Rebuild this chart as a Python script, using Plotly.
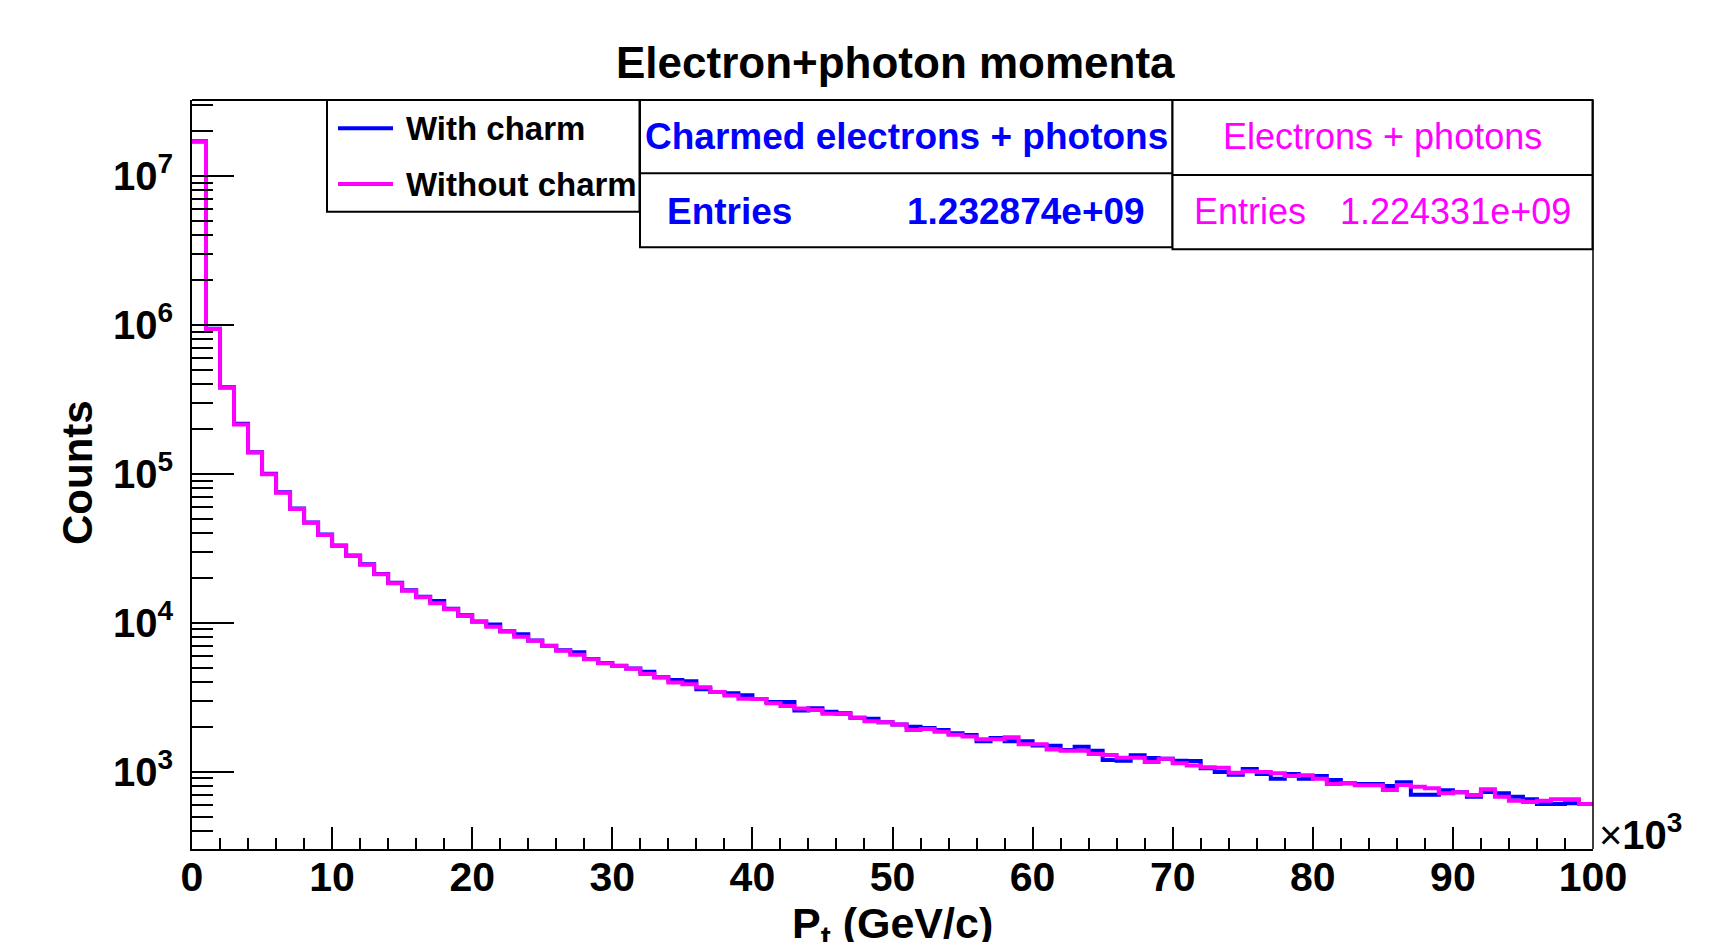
import plotly.graph_objects as go

# ---------------- data ----------------
bin_edges = list(range(0, 101))  # Pt in units of 10^3 GeV/c

with_charm = [
    1.70e7, 9.40e5, 3.80e5, 2.16e5, 1.395e5, 1.00e5, 7.50e4, 5.83e4, 4.71e4, 3.90e4,
    3.29e4, 2.82e4, 2.47e4, 2.12e4, 1.85e4, 1.65e4, 1.49e4, 1.40e4, 1.24e4, 1.12e4,
    1.02e4, 9.74e3, 8.75e3, 8.35e3, 7.60e3, 7.01e3, 6.52e3, 6.32e3, 5.70e3, 5.36e3,
    5.14e3, 4.93e3, 4.69e3, 4.31e3, 4.12e3, 4.04e3, 3.57e3, 3.43e3, 3.36e3, 3.26e3,
    3.08e3, 2.94e3, 2.94e3, 2.57e3, 2.66e3, 2.52e3, 2.47e3, 2.30e3, 2.27e3, 2.15e3,
    2.07e3, 2.00e3, 1.965e3, 1.905e3, 1.81e3, 1.76e3, 1.60e3, 1.68e3, 1.60e3, 1.60e3,
    1.50e3, 1.495e3, 1.40e3, 1.47e3, 1.38e3, 1.198e3, 1.185e3, 1.29e3, 1.236e3, 1.22e3,
    1.185e3, 1.18e3, 1.054e3, 995, 955, 1042, 965, 897, 965, 897,
    936, 880, 836, 827, 827, 802, 849, 701, 701, 750,
    728, 680, 731, 716, 680, 653, 607, 607, 614, 607,
]

without_charm = [
    1.69e7, 9.35e5, 3.78e5, 2.14e5, 1.387e5, 9.93e4, 7.45e4, 5.80e4, 4.69e4, 3.88e4,
    3.27e4, 2.80e4, 2.45e4, 2.11e4, 1.84e4, 1.64e4, 1.48e4, 1.35e4, 1.23e4, 1.11e4,
    1.016e4, 9.40e3, 8.71e3, 8.05e3, 7.57e3, 6.98e3, 6.49e3, 6.10e3, 5.68e3, 5.34e3,
    5.12e3, 4.91e3, 4.53e3, 4.29e3, 3.96e3, 3.86e3, 3.68e3, 3.43e3, 3.24e3, 3.09e3,
    3.08e3, 2.88e3, 2.76e3, 2.65e3, 2.59e3, 2.45e3, 2.44e3, 2.30e3, 2.18e3, 2.15e3,
    2.07e3, 1.905e3, 1.93e3, 1.85e3, 1.77e3, 1.72e3, 1.65e3, 1.65e3, 1.70e3, 1.53e3,
    1.53e3, 1.41e3, 1.38e3, 1.38e3, 1.315e3, 1.295e3, 1.24e3, 1.24e3, 1.16e3, 1.22e3,
    1.14e3, 1.10e3, 1.07e3, 1.064e3, 985, 1006, 995, 976, 936, 946,
    897, 827, 836, 811, 811, 754, 815, 793, 775, 716,
    727, 698, 762, 680, 639, 626, 639, 653, 653, 607,
]

title_text = "Electron+photon momenta"
x_title = "P<sub>t</sub> (GeV/c)"
y_title = "Counts"
legend_labels = ["With charm", "Without charm"]
stats_titles = ["Charmed electrons + photons", "Electrons + photons"]
stats_entries = ["1.232874e+09", "1.224331e+09"]
x_tick_vals = [0, 10, 20, 30, 40, 50, 60, 70, 80, 90, 100]
x_tick_text = ["0", "10", "20", "30", "40", "50", "60", "70", "80", "90", "100"]
y_tick_vals = [1e3, 1e4, 1e5, 1e6, 1e7]
y_tick_text = ["10<sup>3</sup>", "10<sup>4</sup>", "10<sup>5</sup>", "10<sup>6</sup>", "10<sup>7</sup>"]
y_minor_vals = [k * 10 ** e for e in range(2, 8) for k in range(2, 10)]

BLUE = "#0000ff"
MAGENTA = "#ff00ff"
FONT = "Liberation Sans, Arial, Helvetica, sans-serif"

# ---------------- layout geometry (pixels) ----------------
W, H = 1718, 942
L, R, T, B = 192, 1593, 100, 849


def px(x):
    return (x - L) / (R - L)


def py(y):
    return (B - y) / (B - T)


fig = go.Figure()

fig.add_trace(go.Scatter(
    x=bin_edges, y=with_charm + [with_charm[-1]], mode="lines",
    line=dict(color=BLUE, width=4, shape="hv"), name=legend_labels[0],
    showlegend=False,
))
fig.add_trace(go.Scatter(
    x=bin_edges, y=without_charm + [without_charm[-1]], mode="lines",
    line=dict(color=MAGENTA, width=4, shape="hv"), name=legend_labels[1],
    showlegend=False,
))

shapes = []
# frame top & right
shapes.append(dict(type="line", xref="paper", yref="paper", x0=px(L), x1=px(R), y0=py(T), y1=py(T),
                   line=dict(color="black", width=2)))
shapes.append(dict(type="line", xref="paper", yref="paper", x0=px(R), x1=px(R), y0=py(T), y1=py(B),
                   line=dict(color="black", width=1.5)))
# legend box
shapes.append(dict(type="rect", xref="paper", yref="paper", x0=px(327), x1=px(639.5), y0=py(100), y1=py(211.7),
                   line=dict(color="black", width=2), fillcolor="white", layer="above"))
shapes.append(dict(type="line", xref="paper", yref="paper", x0=px(338), x1=px(393), y0=py(128.3), y1=py(128.3),
                   line=dict(color=BLUE, width=4)))
shapes.append(dict(type="line", xref="paper", yref="paper", x0=px(338), x1=px(393), y0=py(184), y1=py(184),
                   line=dict(color=MAGENTA, width=4)))
# stats box 1
shapes.append(dict(type="rect", xref="paper", yref="paper", x0=px(640), x1=px(1172.5), y0=py(100), y1=py(247.3),
                   line=dict(color="black", width=2), fillcolor="white"))
shapes.append(dict(type="line", xref="paper", yref="paper", x0=px(640), x1=px(1172.5), y0=py(173.3), y1=py(173.3),
                   line=dict(color="black", width=2)))
# stats box 2
shapes.append(dict(type="rect", xref="paper", yref="paper", x0=px(1172.5), x1=px(1592.5), y0=py(100), y1=py(249.3),
                   line=dict(color="black", width=2), fillcolor="white"))
shapes.append(dict(type="line", xref="paper", yref="paper", x0=px(1172.5), x1=px(1592.5), y0=py(175), y1=py(175),
                   line=dict(color="black", width=2)))

ann = []


def add_text(text, x, y, size, color="black", bold=True, xanchor="center", yanchor="middle", angle=0):
    ann.append(dict(text=text, x=px(x), y=py(y), xref="paper", yref="paper", showarrow=False,
                    xanchor=xanchor, yanchor=yanchor, textangle=angle,
                    font=dict(family=FONT, size=size, color=color, weight="bold" if bold else "normal")))


add_text(title_text, 895, 62, 44)
add_text(y_title, 77, 473, 42, angle=-90)
add_text(x_title, 892, 926, 43)
add_text("×<b>10<sup>3</sup></b>", 1597, 832, 40, bold=False, xanchor="left")
add_text(legend_labels[0], 404, 128.3, 33, xanchor="left")
add_text(legend_labels[1], 404, 184, 33, xanchor="left")
add_text(stats_titles[0], 906.5, 136.7, 37, color=BLUE)
add_text("Entries", 665, 211.7, 37, color=BLUE, xanchor="left")
add_text(stats_entries[0], 1147, 211.7, 37, color=BLUE, xanchor="right")
add_text(stats_titles[1], 1382, 136.7, 36, color=MAGENTA, bold=False)
add_text("Entries", 1192, 211.7, 36, color=MAGENTA, bold=False, xanchor="left")
add_text(stats_entries[1], 1573, 211.7, 36, color=MAGENTA, bold=False, xanchor="right")

fig.update_layout(
    width=W, height=H, autosize=False,
    margin=dict(l=L, r=W - R, t=T, b=H - B, pad=0),
    paper_bgcolor="white", plot_bgcolor="white",
    shapes=shapes, annotations=ann, showlegend=False,
)

fig.update_xaxes(
    range=[0, 100], showgrid=False, zeroline=False,
    showline=True, linecolor="black", linewidth=2,
    ticks="inside", ticklen=22, tickwidth=2, tickcolor="black",
    tickmode="array", tickvals=x_tick_vals, ticktext=x_tick_text,
    minor=dict(ticks="inside", ticklen=11, tickwidth=2, tickcolor="black",
               tickmode="linear", tick0=0, dtick=2, showgrid=False),
    tickfont=dict(family=FONT, size=41, color="black", weight="bold"),
    ticklabelstandoff=-9,
)
fig.update_yaxes(
    type="log", range=[2.481, 7.508], showgrid=False, zeroline=False,
    showline=True, linecolor="black", linewidth=2,
    ticks="inside", ticklen=42, tickwidth=2, tickcolor="black",
    tickmode="array", tickvals=y_tick_vals, ticktext=y_tick_text,
    minor=dict(ticks="inside", ticklen=21, tickwidth=2, tickcolor="black",
               tickmode="array", tickvals=y_minor_vals, showgrid=False),
    tickfont=dict(family=FONT, size=40, color="black", weight="bold"),
    ticklabelstandoff=9,
)

fig.write_html("out.html")
